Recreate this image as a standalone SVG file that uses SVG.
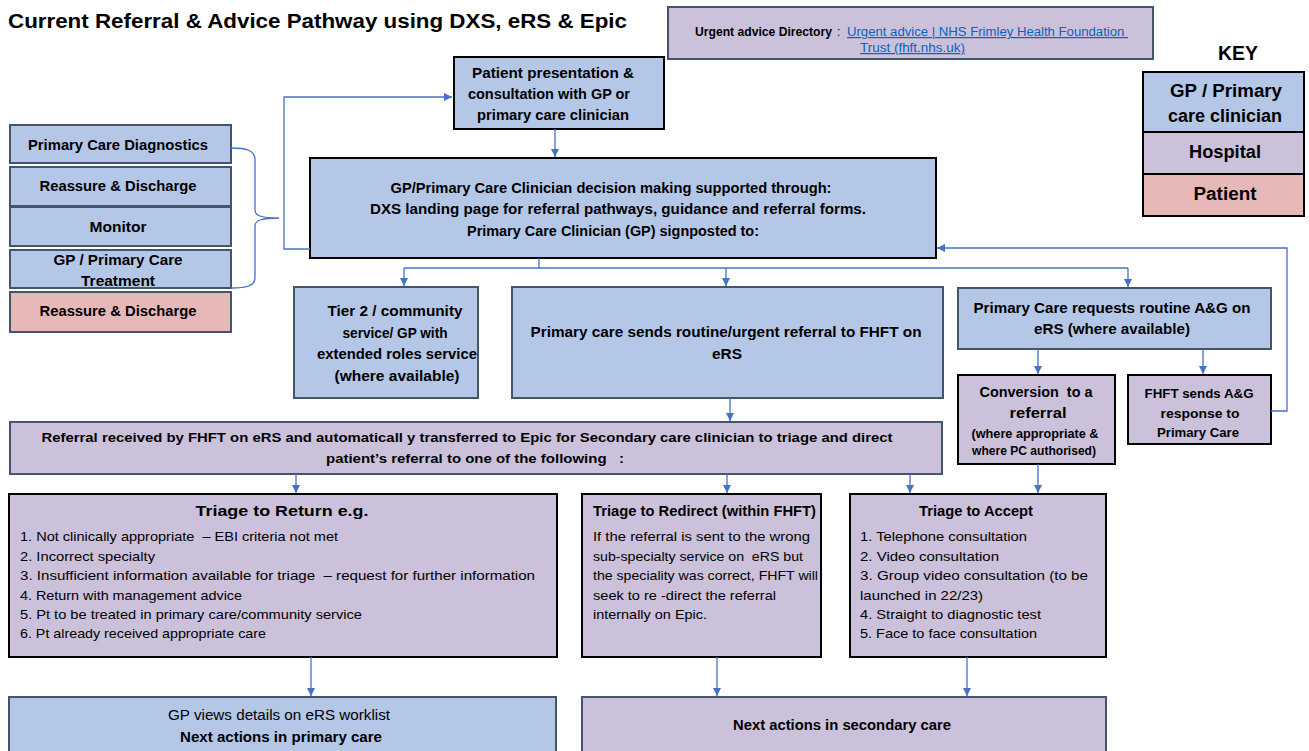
<svg xmlns="http://www.w3.org/2000/svg" width="1309" height="751" viewBox="0 0 1309 751">
<defs>
<style>
text{font-family:"Liberation Sans",Arial,sans-serif;fill:#000;white-space:pre}
.bd{font-weight:bold}
.c{text-anchor:middle}
.f14{font-size:14px}
.f13{font-size:13px}
.f12{font-size:12px}
.blue{fill:#B4C7E7}
.hosp{fill:#CCC1DA}
.pat{fill:#E6B9B8}
.sl{stroke:#44546A;stroke-width:2}
.bk{stroke:#000;stroke-width:2}
.con{fill:none;stroke:#4472C4;stroke-width:1.3}
.link{fill:#0563C1}
</style>
<marker id="ah" markerUnits="userSpaceOnUse" markerWidth="9" markerHeight="9" refX="8" refY="4" orient="auto">
<path d="M0,0 L8,4 L0,8 z" fill="#4472C4"/>
</marker>
</defs>
<rect width="1309" height="751" fill="#fff"/>

<g id="title">
<text x="8" y="28" class="bd" font-size="20" textLength="619" lengthAdjust="spacingAndGlyphs">Current Referral &amp; Advice Pathway using DXS, eRS &amp; Epic</text>
</g>

<g id="urgent-advice">
<rect x="668" y="7" width="485" height="52" class="hosp sl"/>
<text x="695" y="36" class="bd f12" textLength="137" lengthAdjust="spacingAndGlyphs">Urgent advice Directory</text>
<text x="837" y="36" class="f12">:</text>
<text x="847" y="36" class="f12 link" text-decoration="underline" textLength="281" lengthAdjust="spacingAndGlyphs">Urgent advice | NHS Frimley Health Foundation </text>
<text x="860" y="52" class="f12 link" text-decoration="underline" textLength="105" lengthAdjust="spacingAndGlyphs">Trust (fhft.nhs.uk)</text>
</g>

<g id="key">
<text x="1238" y="60" class="bd c" font-size="20" textLength="40" lengthAdjust="spacingAndGlyphs">KEY</text>
<rect x="1143" y="72" width="161" height="60" class="blue bk"/>
<rect x="1143" y="132" width="161" height="42" class="hosp bk"/>
<rect x="1143" y="174" width="161" height="42" class="pat bk"/>
<text x="1226" y="97" class="bd c" font-size="18" textLength="112" lengthAdjust="spacingAndGlyphs">GP / Primary</text>
<text x="1225" y="122" class="bd c" font-size="18" textLength="114" lengthAdjust="spacingAndGlyphs">care clinician</text>
<text x="1225" y="158" class="bd c" font-size="18" textLength="72" lengthAdjust="spacingAndGlyphs">Hospital</text>
<text x="1225" y="200" class="bd c" font-size="18" textLength="63" lengthAdjust="spacingAndGlyphs">Patient</text>
</g>

<g id="patient-presentation">
<rect x="454" y="57" width="210" height="72" class="blue bk"/>
<text x="553" y="78" class="bd c f14" textLength="162" lengthAdjust="spacingAndGlyphs">Patient presentation &amp;</text>
<text x="549" y="99" class="bd c f14" textLength="162" lengthAdjust="spacingAndGlyphs">consultation with GP or</text>
<text x="553" y="120" class="bd c f14" textLength="152" lengthAdjust="spacingAndGlyphs">primary care clinician</text>
</g>

<g id="decision">
<rect x="310" y="158" width="626" height="100" class="blue bk"/>
<text x="611" y="193" class="bd c f14" textLength="441" lengthAdjust="spacingAndGlyphs">GP/Primary Care Clinician decision making supported through:</text>
<text x="618" y="214" class="bd c f14" textLength="496" lengthAdjust="spacingAndGlyphs">DXS landing page for referral pathways, guidance and referral forms.</text>
<text x="613" y="236" class="bd c f14" textLength="292" lengthAdjust="spacingAndGlyphs">Primary Care Clinician (GP) signposted to:</text>
</g>

<g id="primary-care-diagnostics">
<rect x="10" y="125" width="221" height="38" class="blue sl"/>
<text x="118" y="150" class="bd c f14" textLength="180" lengthAdjust="spacingAndGlyphs">Primary Care Diagnostics</text>
</g>
<g id="reassure-discharge-gp">
<rect x="10" y="167" width="221" height="39" class="blue sl"/>
<text x="118" y="191" class="bd c f14" textLength="157" lengthAdjust="spacingAndGlyphs">Reassure &amp; Discharge</text>
</g>
<g id="monitor">
<rect x="10" y="207" width="221" height="39" class="blue sl"/>
<text x="118" y="232" class="bd c f14" textLength="57" lengthAdjust="spacingAndGlyphs">Monitor</text>
</g>
<g id="gp-treatment">
<rect x="10" y="250" width="221" height="38" class="blue sl"/>
<text x="118" y="265" class="bd c f14" textLength="129" lengthAdjust="spacingAndGlyphs">GP / Primary Care</text>
<text x="118" y="286" class="bd c f14" textLength="74" lengthAdjust="spacingAndGlyphs">Treatment</text>
</g>
<g id="reassure-discharge-patient">
<rect x="10" y="292" width="221" height="40" class="pat sl"/>
<text x="118" y="316" class="bd c f14" textLength="157" lengthAdjust="spacingAndGlyphs">Reassure &amp; Discharge</text>
</g>

<g id="tier2">
<rect x="294" y="287" width="184" height="111" class="blue sl"/>
<text x="395" y="316" class="bd c f14" textLength="135" lengthAdjust="spacingAndGlyphs">Tier 2 / community</text>
<text x="395" y="338" class="bd c f14" textLength="105" lengthAdjust="spacingAndGlyphs">service/ GP with</text>
<text x="397" y="359" class="bd c f14" textLength="160" lengthAdjust="spacingAndGlyphs">extended roles service</text>
<text x="397" y="381" class="bd c f14" textLength="125" lengthAdjust="spacingAndGlyphs">(where available)</text>
</g>

<g id="primary-sends-referral">
<rect x="512" y="287" width="431" height="111" class="blue sl"/>
<text x="726" y="337" class="bd c f14" textLength="391" lengthAdjust="spacingAndGlyphs">Primary care sends routine/urgent referral to FHFT on</text>
<text x="727" y="359" class="bd c f14" textLength="30" lengthAdjust="spacingAndGlyphs">eRS</text>
</g>

<g id="primary-requests-ag">
<rect x="958" y="288" width="313" height="61" class="blue sl"/>
<text x="1112" y="313" class="bd c f14" textLength="277" lengthAdjust="spacingAndGlyphs">Primary Care requests routine A&amp;G on</text>
<text x="1112" y="334" class="bd c f14" textLength="156" lengthAdjust="spacingAndGlyphs">eRS (where available)</text>
</g>

<g id="conversion">
<rect x="958" y="375" width="157" height="89" class="hosp bk"/>
<text x="1036" y="397" class="bd c f14" textLength="113" lengthAdjust="spacingAndGlyphs">Conversion  to a</text>
<text x="1038" y="418" class="bd c f14" textLength="57" lengthAdjust="spacingAndGlyphs">referral</text>
<text x="1035" y="438" class="bd c f12" textLength="127" lengthAdjust="spacingAndGlyphs">(where appropriate &amp;</text>
<text x="1034" y="455" class="bd c f12" textLength="124" lengthAdjust="spacingAndGlyphs">where PC authorised)</text>
</g>

<g id="fhft-sends-ag">
<rect x="1128" y="375" width="143" height="69" class="hosp bk"/>
<text x="1199" y="398" class="bd c f13" textLength="109" lengthAdjust="spacingAndGlyphs">FHFT sends A&amp;G</text>
<text x="1200" y="418" class="bd c f13" textLength="79" lengthAdjust="spacingAndGlyphs">response to</text>
<text x="1198" y="437" class="bd c f13" textLength="82" lengthAdjust="spacingAndGlyphs">Primary Care</text>
</g>

<g id="referral-received">
<rect x="10" y="422" width="932" height="52" class="hosp sl"/>
<text x="467" y="442" class="bd c f13" textLength="851" lengthAdjust="spacingAndGlyphs">Referral received by FHFT on eRS and automaticall y transferred to Epic for Secondary care clinician to triage and direct</text>
<text x="475" y="463" class="bd c f13" textLength="298" lengthAdjust="spacingAndGlyphs">patient’s referral to one of the following   :</text>
</g>

<g id="triage-return">
<rect x="9" y="494" width="548" height="163" class="hosp bk"/>
<text x="282" y="516" class="bd c f14" textLength="173" lengthAdjust="spacingAndGlyphs">Triage to Return e.g.</text>
<text x="20" y="541" class="f13" textLength="318" lengthAdjust="spacingAndGlyphs">1. Not clinically appropriate  – EBI criteria not met</text>
<text x="20" y="561" class="f13" textLength="135" lengthAdjust="spacingAndGlyphs">2. Incorrect specialty</text>
<text x="20" y="580" class="f13" textLength="515" lengthAdjust="spacingAndGlyphs">3. Insufficient information available for triage  – request for further information</text>
<text x="20" y="600" class="f13" textLength="222" lengthAdjust="spacingAndGlyphs">4. Return with management advice</text>
<text x="20" y="619" class="f13" textLength="342" lengthAdjust="spacingAndGlyphs">5. Pt to be treated in primary care/community service</text>
<text x="20" y="638" class="f13" textLength="246" lengthAdjust="spacingAndGlyphs">6. Pt already received appropriate care</text>
</g>

<g id="triage-redirect">
<rect x="582" y="494" width="239" height="163" class="hosp bk"/>
<text x="593" y="516" class="bd f14" textLength="223" lengthAdjust="spacingAndGlyphs">Triage to Redirect (within FHFT)</text>
<text x="593" y="541" class="f13" textLength="217" lengthAdjust="spacingAndGlyphs">If the referral is sent to the wrong</text>
<text x="593" y="561" class="f13" textLength="210" lengthAdjust="spacingAndGlyphs">sub-specialty service on  eRS but</text>
<text x="593" y="580" class="f13" textLength="225" lengthAdjust="spacingAndGlyphs">the speciality was correct, FHFT will</text>
<text x="593" y="600" class="f13" textLength="183" lengthAdjust="spacingAndGlyphs">seek to re -direct the referral</text>
<text x="593" y="619" class="f13" textLength="114" lengthAdjust="spacingAndGlyphs">internally on Epic.</text>
</g>

<g id="triage-accept">
<rect x="850" y="494" width="256" height="163" class="hosp bk"/>
<text x="976" y="516" class="bd c f14" textLength="114" lengthAdjust="spacingAndGlyphs">Triage to Accept</text>
<text x="860" y="541" class="f13" textLength="167" lengthAdjust="spacingAndGlyphs">1. Telephone consultation</text>
<text x="860" y="561" class="f13" textLength="139" lengthAdjust="spacingAndGlyphs">2. Video consultation</text>
<text x="860" y="580" class="f13" textLength="228" lengthAdjust="spacingAndGlyphs">3. Group video consultation (to be</text>
<text x="860" y="600" class="f13" textLength="123" lengthAdjust="spacingAndGlyphs">launched in 22/23)</text>
<text x="860" y="619" class="f13" textLength="181" lengthAdjust="spacingAndGlyphs">4. Straight to diagnostic test</text>
<text x="860" y="638" class="f13" textLength="177" lengthAdjust="spacingAndGlyphs">5. Face to face consultation</text>
</g>

<g id="next-primary">
<rect x="9" y="697" width="547" height="60" class="blue sl"/>
<text x="279" y="720" class="f14 c" textLength="222" lengthAdjust="spacingAndGlyphs">GP views details on eRS worklist</text>
<text x="281" y="742" class="bd f14 c" textLength="202" lengthAdjust="spacingAndGlyphs">Next actions in primary care</text>
</g>

<g id="next-secondary">
<rect x="582" y="697" width="524" height="60" class="hosp sl"/>
<text x="842" y="730" class="bd f14 c" textLength="218" lengthAdjust="spacingAndGlyphs">Next actions in secondary care</text>
</g>

<g id="connectors">
<line x1="555" y1="129" x2="555" y2="157" class="con" marker-end="url(#ah)"/>
<polyline points="310,249 284,249 284,97 452,97" class="con" marker-end="url(#ah)"/>
<path d="M231,148 C246,148 255,150 255,160 L255,210 C255,216 262,218 279,218 C262,218 255,220 255,226 L255,278 C255,286 246,288 231,288" class="con" stroke-width="1.6"/>
<line x1="539" y1="258" x2="539" y2="268" class="con"/>
<line x1="404" y1="268" x2="1128" y2="268" class="con"/>
<line x1="404" y1="268" x2="404" y2="286" class="con" marker-end="url(#ah)"/>
<line x1="726" y1="268" x2="726" y2="286" class="con" marker-end="url(#ah)"/>
<line x1="1128" y1="268" x2="1128" y2="287" class="con" marker-end="url(#ah)"/>
<line x1="730" y1="398" x2="730" y2="421" class="con" marker-end="url(#ah)"/>
<line x1="1038" y1="349" x2="1038" y2="374" class="con" marker-end="url(#ah)"/>
<line x1="1203" y1="349" x2="1203" y2="374" class="con" marker-end="url(#ah)"/>
<polyline points="1271,411 1287,411 1287,248 937,248" class="con" marker-end="url(#ah)"/>
<line x1="1038" y1="464" x2="1038" y2="493" class="con" marker-end="url(#ah)"/>
<line x1="296" y1="474" x2="296" y2="493" class="con" marker-end="url(#ah)"/>
<line x1="727" y1="474" x2="727" y2="493" class="con" marker-end="url(#ah)"/>
<line x1="910" y1="474" x2="910" y2="493" class="con" marker-end="url(#ah)"/>
<line x1="311" y1="657" x2="311" y2="696" class="con" marker-end="url(#ah)"/>
<line x1="717" y1="657" x2="717" y2="696" class="con" marker-end="url(#ah)"/>
<line x1="967" y1="657" x2="967" y2="696" class="con" marker-end="url(#ah)"/>
</g>
</svg>
